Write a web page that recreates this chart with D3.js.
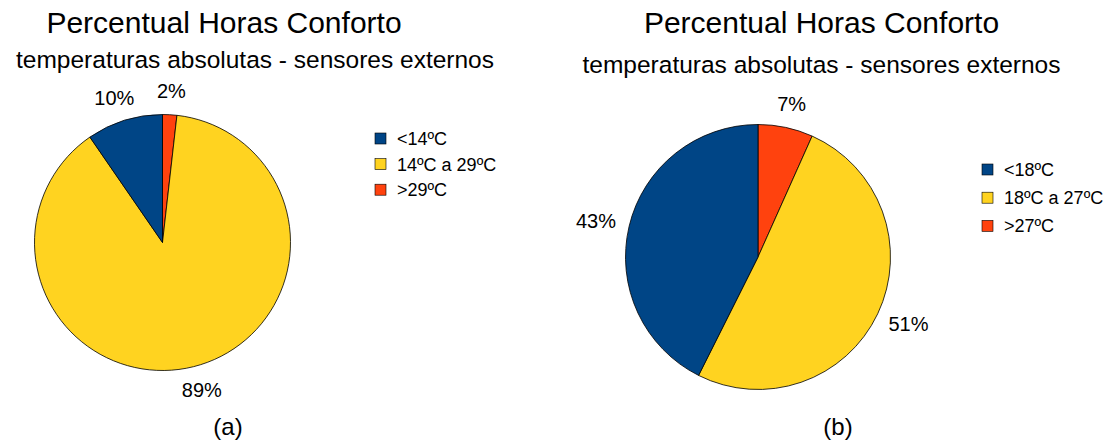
<!DOCTYPE html>
<html><head><meta charset="utf-8">
<script src="https://cdn.jsdelivr.net/npm/d3@7"></script>
<style>
html,body{margin:0;padding:0;background:#fff;}
text{font-family:"Liberation Sans",Arial,sans-serif;fill:#000;}
</style></head>
<body>
<svg id="c" width="1114" height="441"></svg>
<script>
const title = "Percentual Horas Conforto";
const subtitle = "temperaturas absolutas - sensores externos";
const categoriesA = ["<14ºC", "14ºC a 29ºC", ">29ºC"];
const valuesA = [9.6, 88.6, 1.8];
const categoriesB = ["<18ºC", "18ºC a 27ºC", ">27ºC"];
const valuesB = [42.6, 50.7, 6.7];
const colors = ["#004586", "#ffd320", "#ff420e"];
const captions = ["(a)", "(b)"];

const svg = d3.select("#c");

function addText(parent, x, y, str, size, anchor){
  return parent.append("text").attr("x", x).attr("y", y)
    .attr("text-anchor", anchor || "start")
    .attr("font-size", size).text(str);
}

function drawChart(cfg){
  const g = svg.append("g");
  addText(g, cfg.tx, cfg.ty, title, 30, "middle");
  addText(g, cfg.sx, cfg.sy, subtitle, 24.5, "middle");

  // pie order clockwise from top: last category first
  const idx = d3.range(cfg.values.length).reverse();
  const pie = d3.pie().sort(null).value(i => cfg.values[i]);
  const arcs = pie(idx);
  const arc = d3.arc().innerRadius(0).outerRadius(cfg.r);
  const pg = g.append("g").attr("transform", `translate(${cfg.cx},${cfg.cy})`);
  pg.selectAll("path").data(arcs).join("path")
    .attr("d", arc).attr("fill", d => colors[d.data])
    .attr("stroke", "#000").attr("stroke-width", 0.8);

  const total = d3.sum(cfg.values);
  arcs.forEach(d => {
    const a = (d.startAngle + d.endAngle) / 2;
    const rr = cfg.r + 14;
    const label = Math.round(cfg.values[d.data] / total * 100) + "%";
    const t = addText(pg, 0, 0, label, 20, "middle");
    const w = t.node().getComputedTextLength(), h = 20;
    const x = Math.sin(a) * rr + Math.sin(a) * w / 2;
    const y = -Math.cos(a) * rr - Math.cos(a) * h / 2;
    t.attr("x", x).attr("y", y + 7.2);
  });

  const lg = g.append("g").attr("transform", `translate(${cfg.lx},${cfg.ly})`);
  cfg.cats.forEach((c, i) => {
    const row = lg.append("g").attr("transform", `translate(0,${i * cfg.ls})`);
    row.append("rect").attr("x", 0).attr("y", -5.5).attr("width", 11).attr("height", 11)
      .attr("fill", colors[i]).attr("stroke", "#000").attr("stroke-width", 0.6);
    addText(row, 22, 6.5, c, 18, "start");
  });

  addText(g, cfg.capx, 435, cfg.cap, 24, "middle");
}

drawChart({tx:224, ty:33, sx:255, sy:68, cx:162.5, cy:242.5, r:128, values:valuesA, cats:categoriesA,
  lx:375, ly:138.5, ls:25.6, capx:228, cap:captions[0]});
drawChart({tx:821.5, ty:33, sx:821.5, sy:72.5, cx:758, cy:257, r:132.5, values:valuesB, cats:categoriesB,
  lx:982, ly:169.5, ls:28.2, capx:838, cap:captions[1]});
</script>
</body></html>
